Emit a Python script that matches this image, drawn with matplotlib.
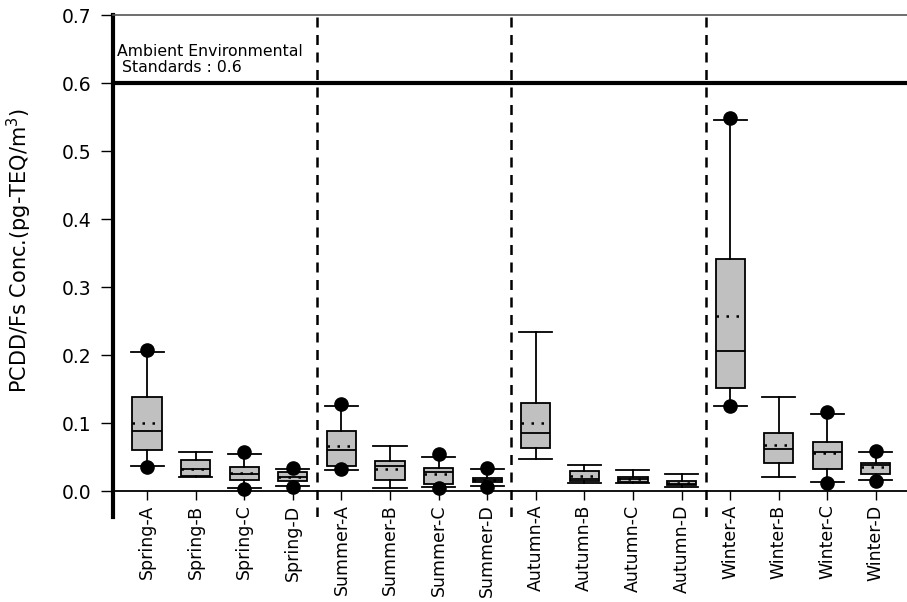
import matplotlib.pyplot as plt
import numpy as np

# site / season groups
labels = ["Spring-A", "Spring-B", "Spring-C", "Spring-D",
          "Summer-A", "Summer-B", "Summer-C", "Summer-D",
          "Autumn-A", "Autumn-B", "Autumn-C", "Autumn-D",
          "Winter-A", "Winter-B", "Winter-C", "Winter-D"]

# box statistics (pg-TEQ/m3)
whis_lo = [0.037, 0.021, 0.005, 0.008, 0.031, 0.005, 0.006, 0.008,
           0.047, 0.012, 0.012, 0.006, 0.126, 0.021, 0.013, 0.016]
q1 = [0.060, 0.022, 0.016, 0.015, 0.037, 0.016, 0.011, 0.013,
      0.064, 0.015, 0.013, 0.009, 0.152, 0.042, 0.033, 0.025]
median = [0.088, 0.033, 0.026, 0.021, 0.061, 0.037, 0.028, 0.016,
          0.086, 0.018, 0.018, 0.011, 0.206, 0.062, 0.057, 0.038]
mean = [0.100, 0.033, 0.027, 0.021, 0.067, 0.032, 0.026, 0.016,
        0.101, 0.022, 0.018, 0.012, 0.257, 0.068, 0.056, 0.036]
q3 = [0.139, 0.046, 0.036, 0.028, 0.088, 0.044, 0.034, 0.020,
      0.130, 0.030, 0.021, 0.015, 0.341, 0.086, 0.073, 0.042]
whis_hi = [0.205, 0.057, 0.055, 0.033, 0.125, 0.067, 0.051, 0.033,
           0.234, 0.039, 0.031, 0.025, 0.545, 0.139, 0.113, 0.058]
# extreme points (filled dots); nan = none shown
dot_hi = [0.208, np.nan, 0.058, 0.034, 0.128, np.nan, 0.055, 0.034,
          np.nan, np.nan, np.nan, np.nan, 0.549, np.nan, 0.116, 0.059]
dot_lo = [0.035, np.nan, 0.004, 0.007, 0.032, np.nan, 0.005, 0.007,
          np.nan, np.nan, np.nan, np.nan, 0.126, np.nan, 0.012, 0.015]

standard = 0.6

stats = []
for i in range(len(labels)):
    fl = [v for v in (dot_lo[i], dot_hi[i]) if not np.isnan(v)]
    stats.append(dict(whislo=whis_lo[i], q1=q1[i], med=median[i], mean=mean[i],
                      q3=q3[i], whishi=whis_hi[i], fliers=fl, label=labels[i]))

fig = plt.figure(figsize=(9.07, 6.02), dpi=100)
ax = fig.add_axes([0.1246, 0.141, 0.8754, 0.834])

pos = np.arange(len(labels))
ax.bxp(stats, positions=pos, widths=0.6, patch_artist=True, showmeans=True,
       meanline=True, capwidths=0.68,
       boxprops=dict(facecolor="#c0c0c0", edgecolor="black", linewidth=1.3),
       medianprops=dict(color="black", linewidth=1.3),
       meanprops=dict(color="black", linestyle=(0, (1, 3)), linewidth=1.8),
       whiskerprops=dict(color="black", linewidth=1.3),
       capprops=dict(color="black", linewidth=1.3),
       flierprops=dict(marker="o", markerfacecolor="black",
                       markeredgecolor="black", markersize=9.5))

# season separators
for x in [3.5, 7.5, 11.5]:
    ax.axvline(x, color="black", linestyle=(0, (4, 3)), linewidth=1.8)

# ambient standard
ax.axhline(standard, color="black", linewidth=3)
ax.text(-0.62, 0.612, "Ambient Environmental\n Standards : 0.6", fontsize=11.3,
        ha="left", va="bottom", linespacing=1.05)

ax.set_xlim(-0.7, 15.64)
ax.set_ylim(-0.038, 0.7)
ax.set_yticks(np.arange(0, 0.71, 0.1))
ax.set_yticklabels(["%.1f" % v for v in np.arange(0, 0.71, 0.1)])
ax.set_xticks(pos)
ax.set_xticklabels(labels)
ax.set_ylabel("PCDD/Fs Conc.(pg-TEQ/m$^3$)", fontsize=15)
ax.yaxis.set_label_coords(-0.1, 0.53)

ax.spines["bottom"].set_position(("data", 0))
ax.spines["bottom"].set_linewidth(1.3)
ax.spines["left"].set_linewidth(3)
ax.spines["top"].set_linewidth(1.2)
ax.spines["top"].set_color("#555555")
ax.spines["right"].set_visible(False)
ax.tick_params(axis="y", length=8.5, width=1, pad=7, labelsize=13.5)
ax.tick_params(axis="x", length=6.5, width=1.0, pad=3, labelrotation=90,
               labelsize=12.5)

fig.savefig("out.png", dpi=100)
